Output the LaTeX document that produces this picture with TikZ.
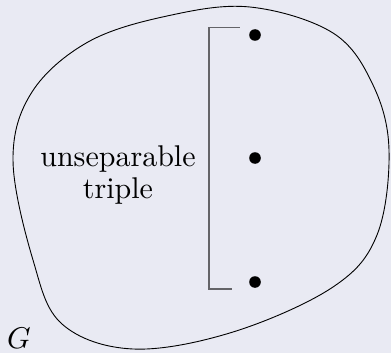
\documentclass[tikz,border=0pt]{standalone}
\definecolor{bgcol}{RGB}{233,234,243}
\definecolor{brackcol}{RGB}{100,100,104}
\tikzset{
  dot/.style={circle,fill=black,inner sep=0pt,minimum size=11.6pt},
  bracketline/.style={draw=brackcol,line width=1.2pt},
  blobline/.style={draw=black,line width=0.9pt},
  lbl/.style={inner sep=0pt,align=center,scale=3,transform shape,font=\fontsize{10}{10.35}\selectfont}
}
\begin{document}
\begin{tikzpicture}[x=1pt,y=-1pt]
\fill[bgcol] (0,0) rectangle (391,353);
\useasboundingbox (0,0) rectangle (391,353);
\draw[blobline] plot[smooth cycle,tension=0.6] coordinates {
  (250,7) (333,33) (373,85) (389,150) (377,235) (333,287) (233,332)
  (133,349) (62,324) (33,260) (13,160) (32,92) (88,42) (167,16)};
\node[dot] (d1) at (255,35) {};
\node[dot] (d2) at (255,158) {};
\node[dot] (d3) at (255,282) {};
\node[lbl] (t) at (118,175) {unseparable\\triple};
\node[lbl,anchor=base] (g) at (19,348) {$G$};
\coordinate (bt) at (239.7,27.3);
\coordinate (bb) at (231.7,289);
\draw[bracketline] (bt) -- (209,27.3) -- (209,289) -- (bb);
\end{tikzpicture}
\end{document}
